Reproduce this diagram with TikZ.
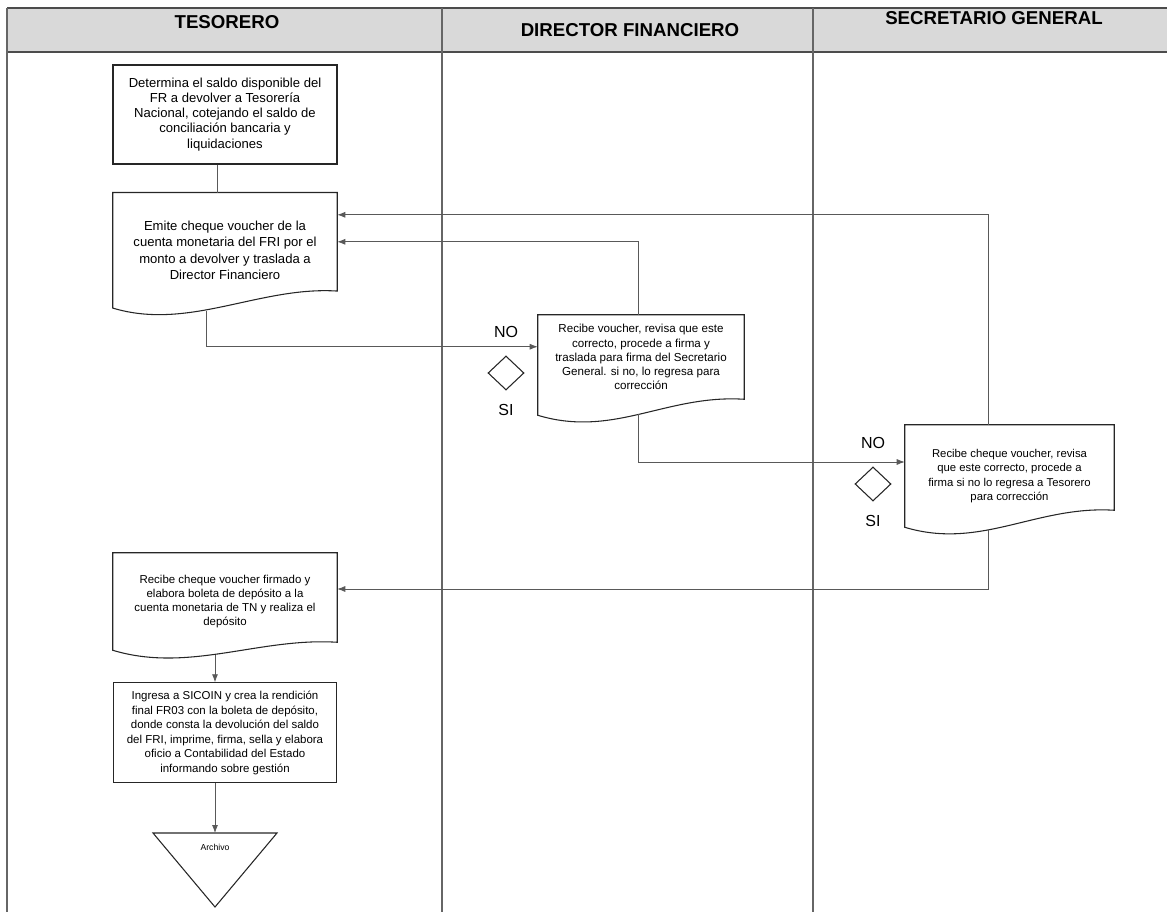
\documentclass[tikz,border=0pt]{standalone}
\usepackage{fontspec}
\setmainfont{Liberation Sans}
\usepackage{tikz}
\usetikzlibrary{arrows.meta, shapes, positioning, calc}

% outline of a document node: wavy bottom, right end raised by #2, left end dropped by #3
\newcommand{\docshape}[3]{%
  \draw[docline] ($(#1.south east)+(0,-#2)$) .. controls +(-78,-5) and +(76,23) .. ($(#1.south west)+(0,#3)$)
    -- (#1.north west) -- (#1.north east) -- cycle;}

\begin{document}
\begin{tikzpicture}[x=0.75pt, y=-0.75pt,
    procbox/.style={draw=black!85, line width=0.8pt, align=center, inner sep=0pt},
    docbox/.style={align=center, inner sep=0pt},
    docline/.style={draw=black!85, line width=0.8pt},
    decision/.style={diamond, draw=black!85, line width=0.8pt, inner sep=0pt, minimum width=27pt, minimum height=25.5pt},
    yesno/.style={inner sep=0pt, font=\fontsize{12}{14}\selectfont},
    lane/.style={font=\fontsize{14}{16}\selectfont\bfseries},
    conn/.style={line width=0.6pt, black!65},
    flow/.style={conn, -{Latex[length=6pt,width=4.5pt]}}]
    \useasboundingbox (0,0) rectangle (1167,912);

    % swimlanes
    \fill[black!15] (7,8) rectangle (1167,52);
    \draw[black!70, line width=0.8pt] (7,8) -- (1167,8) (7,52) -- (1167,52);
    \draw[black!60, line width=0.8pt] (7,8) -- (7,912) (442,8) -- (442,912) (813,8) -- (813,912);
    \node[lane] (tes) at (227,22) {TESORERO};
    \node[lane] (dirf) at (630,30) {DIRECTOR FINANCIERO};
    \node[lane] (secg) at (994,18) {SECRETARIO GENERAL};

    % tesorero
    \node[procbox, font=\fontsize{9.8}{11.3}\selectfont, minimum width=168pt, minimum height=74.25pt] (det) at (225,114.5)
        {Determina el saldo disponible del\\FR a devolver a Tesorería\\Nacional, cotejando el saldo de\\conciliación bancaria y\\liquidaciones};
    \node[docbox, font=\fontsize{9.8}{12.4}\selectfont, minimum width=168pt, minimum height=86.25pt] (emite) [below=21pt of det]
        {Emite cheque voucher de la\\cuenta monetaria del FRI por el\\monto a devolver y traslada a\\Director Financiero};
    \docshape{emite}{17}{0}
    \node[docbox, font=\fontsize{8.6}{10.7}\selectfont, minimum width=168pt, minimum height=72.75pt] (rec) at (225,601.5)
        {Recibe cheque voucher firmado y\\elabora boleta de depósito a la\\cuenta monetaria de TN y realiza el\\depósito};
    \docshape{rec}{8}{0}
    \node[procbox, font=\fontsize{8.6}{10.9}\selectfont, minimum width=167.25pt, minimum height=75pt] (ing) [below=24pt of rec]
        {Ingresa a SICOIN y crea la rendición\\final FR03 con la boleta de depósito,\\donde consta la devolución del saldo\\del FRI, imprime, firma, sella y elabora\\oficio a Contabilidad del Estado\\informando sobre gestión};
    \coordinate (archtop) at (215,833);
    \draw[docline] ($(archtop)+(-62,0)$) -- ($(archtop)+(62,0)$) -- ($(archtop)+(0,74)$) -- cycle;
    \node[font=\fontsize{6.5}{8}\selectfont] (arch) at ($(archtop)+(0,14)$) {Archivo};

    % director financiero
    \node[docbox, font=\fontsize{8.7}{10.6}\selectfont, minimum width=154.5pt, minimum height=63pt] (dir) at (641,357)
        {Recibe voucher, revisa que este\\correcto, procede a firma y\\traslada para firma del Secretario\\General. si no, lo regresa para\\corrección};
    \docshape{dir}{0}{16}
    \node[decision] (chk1) at (506,373) {};
    \node[yesno, above=13.5pt of chk1] (no1) {NO};
    \node[yesno, below=10.5pt of chk1] (si1) {SI};

    % secretario general
    \node[docbox, font=\fontsize{8.5}{10.7}\selectfont, minimum width=156.75pt, minimum height=76.5pt] (sec) at (1009.5,476)
        {Recibe cheque voucher, revisa\\que este correcto, procede a\\firma si no lo regresa a Tesorero\\para corrección};
    \docshape{sec}{17}{0}
    \node[decision] (chk2) at (873,484) {};
    \node[yesno, above=13.5pt of chk2] (no2) {NO};
    \node[yesno, below=10.5pt of chk2] (si2) {SI};

    % connectors
    \draw[conn] ($(det.south)+(-8,0)$) -- ($(det.south |- emite.north)+(-8,0)$);
    \draw[flow] ($(emite.south)+(-19,3)$) |- ($(dir.north west)+(0,32)$);
    \draw[flow] ($(dir.north)+(-3,0)$) |- ($(emite.east)+(0,-8.5)$);
    \draw[flow] ($(sec.north)+(-21,0)$) |- ($(emite.east)+(0,-35.5)$);
    \draw[flow] ($(dir.south)+(-3,15)$) |- ($(sec.west)+(0,-14)$);
    \draw[flow] ($(sec.south)+(-21,3)$) |- ($(rec.east)+(0,-12.5)$);
    \draw[flow] ($(rec.south -| archtop)+(0,5)$) -- (ing.north -| archtop);
    \draw[flow] (ing.south -| archtop) -- (archtop);
\end{tikzpicture}
\end{document}
